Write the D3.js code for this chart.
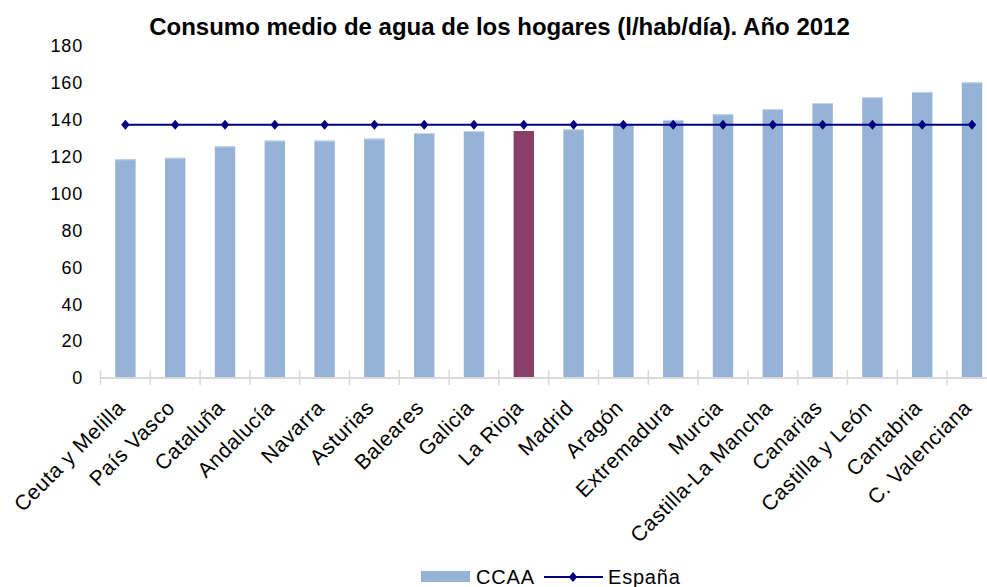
<!DOCTYPE html>
<html>
<head>
<meta charset="utf-8">
<script src="https://cdn.jsdelivr.net/npm/d3@7"></script>
<style>
  html, body { margin: 0; padding: 0; background: #fff; }
  svg { display: block; }
  text { font-family: "Liberation Sans", Arial, Helvetica, sans-serif; fill: #000; }
</style>
</head>
<body>
<svg id="chart" width="987" height="587"></svg>
<script>
const categories = ["Ceuta y Melilla", "País Vasco", "Cataluña", "Andalucía", "Navarra", "Asturias",
  "Baleares", "Galicia", "La Rioja", "Madrid", "Aragón", "Extremadura", "Murcia",
  "Castilla-La Mancha", "Canarias", "Castilla y León", "Cantabria", "C. Valenciana"];
const ccaaValues = [118.6, 119.4, 125.6, 128.7, 128.7, 129.8, 132.8, 133.9, 133.9, 134.8,
  137.6, 139.9, 143.0, 145.8, 149.1, 152.2, 155.1, 160.3];
const espanaValues = categories.map(() => 137.3);
const highlight = "La Rioja";
const yTicks = [0, 20, 40, 60, 80, 100, 120, 140, 160, 180];
const title = "Consumo medio de agua de los hogares (l/hab/día). Año 2012";
const seriesNames = ["CCAA", "España"];

const svg = d3.select("#chart");
const x = d3.scaleBand().domain(categories).range([100.5, 996.9]).paddingInner(0).paddingOuter(0);
const y = d3.scaleLinear().domain([0, 180]).range([378, 46]);

const barColor = "#95b3d7", hiColor = "#893f67", lineColor = "#000080";

// title
svg.append("text").attr("x", 499.5).attr("y", 34.5).attr("text-anchor", "middle")
  .attr("font-size", 24).attr("font-weight", "bold").text(title);

// y axis labels
svg.append("g").selectAll("text").data(yTicks).join("text")
  .attr("x", 83).attr("y", d => y(d)).attr("dy", "0.35em")
  .attr("text-anchor", "end").attr("font-size", 18).attr("letter-spacing", 0.8).text(d => d);

// bars
const bw = x.bandwidth() * 0.41;
svg.append("g").selectAll("rect").data(categories).join("rect")
  .attr("x", d => x(d) + x.bandwidth() / 2 - bw / 2)
  .attr("y", (d, i) => y(ccaaValues[i]))
  .attr("width", bw)
  .attr("height", (d, i) => y(0) - y(ccaaValues[i]))
  .attr("fill", d => d === highlight ? hiColor : barColor);
// light top edge
svg.append("g").selectAll("line").data(categories.filter(c => c !== highlight)).join("line")
  .attr("x1", d => x(d) + x.bandwidth() / 2 - bw / 2)
  .attr("x2", d => x(d) + x.bandwidth() / 2 + bw / 2)
  .attr("y1", d => y(ccaaValues[categories.indexOf(d)]) + 0.5)
  .attr("y2", d => y(ccaaValues[categories.indexOf(d)]) + 0.5)
  .attr("stroke", "#c5d5ea").attr("stroke-width", 1);

// x axis line and ticks
const axisG = svg.append("g");
axisG.append("line").attr("x1", x.range()[0]).attr("x2", x.range()[1])
  .attr("y1", y(0)).attr("y2", y(0)).attr("stroke", "#d9d9d9").attr("stroke-width", 2);
const tickPos = categories.map(c => x(c)).concat([x.range()[1]]);
axisG.selectAll("line.tick").data(tickPos).join("line").attr("class", "tick")
  .attr("x1", d => d).attr("x2", d => d).attr("y1", y(0) - 8).attr("y2", y(0) + 7)
  .attr("stroke", "#d9d9d9").attr("stroke-width", 1.5);

// x labels
svg.append("g").selectAll("text").data(categories).join("text")
  .attr("transform", d => `translate(${x(d) + x.bandwidth() / 2 + 1},${y(0) + 31}) rotate(-45)`)
  .attr("text-anchor", "end").attr("font-size", 21).attr("letter-spacing", 0.6).text(d => d);

// España line
const cx = d => x(d) + x.bandwidth() / 2;
svg.append("path").datum(categories)
  .attr("d", d3.line().x(d => cx(d)).y((d, i) => y(espanaValues[i])))
  .attr("fill", "none").attr("stroke", lineColor).attr("stroke-width", 2);
svg.append("g").selectAll("path").data(categories).join("path")
  .attr("d", d3.symbol().type(d3.symbolDiamond).size(40))
  .attr("transform", (d, i) => `translate(${cx(d)},${y(espanaValues[i])}) scale(1.25,0.85)`)
  .attr("fill", lineColor);

// legend
const lg = svg.append("g");
lg.append("rect").attr("x", 421).attr("y", 571).attr("width", 49).attr("height", 11).attr("fill", barColor);
lg.append("text").attr("x", 476).attr("y", 584).attr("font-size", 20).attr("letter-spacing", 0.8).text(seriesNames[0]);
lg.append("line").attr("x1", 544).attr("x2", 603).attr("y1", 577).attr("y2", 577)
  .attr("stroke", lineColor).attr("stroke-width", 2);
lg.append("path").attr("d", d3.symbol().type(d3.symbolDiamond).size(40))
  .attr("transform", "translate(573,577) scale(1.25,0.85)").attr("fill", lineColor);
lg.append("text").attr("x", 608).attr("y", 584).attr("font-size", 20).attr("letter-spacing", 0.8).text(seriesNames[1]);
</script>
</body>
</html>
